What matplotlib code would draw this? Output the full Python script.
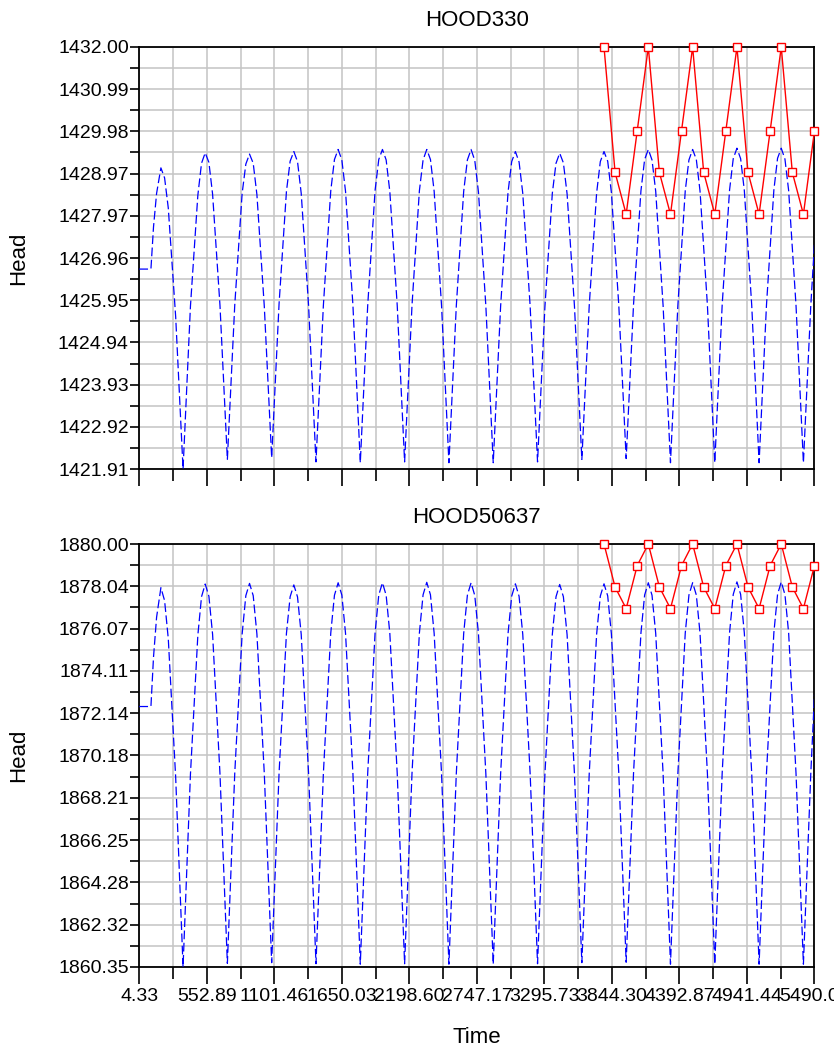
import numpy as np
import matplotlib
matplotlib.use('Agg')
import matplotlib.pyplot as plt
from matplotlib.ticker import AutoMinorLocator

plt.rcParams['font.family'] = ['Liberation Sans', 'DejaVu Sans']

# simulated head (blue dashed), times in days
sim_time = [4.33, 99, 120, 145, 180, 210, 240, 300,
            360, 420, 480, 510, 540, 570, 600, 660,
            720, 780, 840, 870, 900, 930, 960, 1020,
            1080, 1140, 1200, 1230, 1260, 1290, 1320, 1380,
            1440, 1500, 1560, 1590, 1620, 1650, 1680, 1740,
            1800, 1860, 1920, 1950, 1980, 2010, 2040, 2100,
            2160, 2220, 2280, 2310, 2340, 2370, 2400, 2460,
            2520, 2580, 2640, 2670, 2700, 2730, 2760, 2820,
            2880, 2940, 3000, 3030, 3060, 3090, 3120, 3180,
            3240, 3300, 3360, 3390, 3420, 3450, 3480, 3540,
            3600, 3660, 3720, 3750, 3780, 3810, 3840, 3900,
            3960, 4020, 4080, 4110, 4140, 4170, 4200, 4260,
            4320, 4380, 4440, 4470, 4500, 4530, 4560, 4620,
            4680, 4740, 4800, 4830, 4860, 4890, 4920, 4980,
            5040, 5100, 5160, 5190, 5220, 5250, 5280, 5340,
            5400, 5460, 5490]

sim_hood330 = [1426.69, 1426.69, 1427.70, 1428.50, 1429.11, 1428.87, 1428.15, 1425.55,
               1421.91, 1425.80, 1428.45, 1429.22, 1429.47, 1429.24, 1428.48, 1425.82,
               1422.14, 1425.83, 1428.50, 1429.20, 1429.44, 1429.22, 1428.47, 1425.80,
               1422.18, 1425.86, 1428.55, 1429.27, 1429.50, 1429.26, 1428.50, 1425.81,
               1422.08, 1425.82, 1428.56, 1429.31, 1429.55, 1429.30, 1428.55, 1425.83,
               1422.06, 1425.81, 1428.57, 1429.31, 1429.55, 1429.30, 1428.54, 1425.82,
               1422.08, 1425.82, 1428.56, 1429.30, 1429.55, 1429.31, 1428.55, 1425.82,
               1422.06, 1425.81, 1428.55, 1429.30, 1429.55, 1429.29, 1428.53, 1425.81,
               1422.06, 1425.80, 1428.52, 1429.26, 1429.50, 1429.25, 1428.50, 1425.80,
               1422.08, 1425.79, 1428.50, 1429.22, 1429.46, 1429.23, 1428.49, 1425.80,
               1422.14, 1425.82, 1428.51, 1429.26, 1429.50, 1429.27, 1428.52, 1425.83,
               1422.16, 1425.85, 1428.56, 1429.31, 1429.55, 1429.30, 1428.55, 1425.82,
               1422.06, 1425.82, 1428.56, 1429.30, 1429.55, 1429.31, 1428.56, 1425.83,
               1422.06, 1425.83, 1428.58, 1429.33, 1429.58, 1429.33, 1428.57, 1425.83,
               1422.06, 1425.83, 1428.58, 1429.34, 1429.58, 1429.32, 1428.57, 1425.82,
               1422.06, 1425.82, 1427.30]

sim_hood50637 = [1872.45, 1872.45, 1874.75, 1876.60, 1877.97, 1877.37, 1875.60, 1869.16,
                 1860.35, 1869.30, 1875.75, 1877.55, 1878.14, 1877.57, 1875.80, 1869.32,
                 1860.52, 1869.35, 1875.82, 1877.60, 1878.17, 1877.60, 1875.82, 1869.34,
                 1860.55, 1869.36, 1875.85, 1877.55, 1878.10, 1877.54, 1875.80, 1869.33,
                 1860.50, 1869.34, 1875.86, 1877.62, 1878.20, 1877.63, 1875.85, 1869.35,
                 1860.48, 1869.33, 1875.87, 1877.63, 1878.20, 1877.62, 1875.84, 1869.34,
                 1860.50, 1869.34, 1875.86, 1877.64, 1878.22, 1877.64, 1875.85, 1869.34,
                 1860.48, 1869.33, 1875.85, 1877.62, 1878.20, 1877.61, 1875.83, 1869.33,
                 1860.48, 1869.32, 1875.82, 1877.58, 1878.15, 1877.57, 1875.80, 1869.32,
                 1860.50, 1869.31, 1875.80, 1877.55, 1878.12, 1877.55, 1875.79, 1869.32,
                 1860.55, 1869.34, 1875.81, 1877.58, 1878.15, 1877.59, 1875.82, 1869.35,
                 1860.57, 1869.37, 1875.86, 1877.63, 1878.20, 1877.62, 1875.85, 1869.34,
                 1860.48, 1869.34, 1875.86, 1877.63, 1878.20, 1877.63, 1875.86, 1869.35,
                 1860.48, 1869.35, 1875.88, 1877.66, 1878.24, 1877.66, 1875.87, 1869.35,
                 1860.48, 1869.35, 1875.88, 1877.66, 1878.24, 1877.65, 1875.87, 1869.34,
                 1860.48, 1869.34, 1873.00]

# observed head (red squares)
obs_time = [3780, 3870, 3960, 4050, 4140, 4230, 4320, 4410, 4500, 4590,
            4680, 4770, 4860, 4950, 5040, 5130, 5220, 5310, 5400, 5490]
obs_hood330 = [1432, 1429, 1428, 1430, 1432, 1429, 1428, 1430, 1432, 1429,
               1428, 1430, 1432, 1429, 1428, 1430, 1432, 1429, 1428, 1430]
obs_hood50637 = [1880, 1878, 1877, 1879, 1880, 1878, 1877, 1879, 1880, 1878,
                 1877, 1879, 1880, 1878, 1877, 1879, 1880, 1878, 1877, 1879]

x_ticklabels = ['4.33', '552.89', '1101.46', '1650.03', '2198.60', '2747.17',
                '3295.73', '3844.30', '4392.87', '4941.44', '5490.00']
y_labels_330 = ['1421.91', '1422.92', '1423.93', '1424.94', '1425.95', '1426.96',
                '1427.97', '1428.97', '1429.98', '1430.99', '1432.00']
y_labels_50637 = ['1860.35', '1862.32', '1864.28', '1866.25', '1868.21', '1870.18',
                  '1872.14', '1874.11', '1876.07', '1878.04', '1880.00']

x_lo, x_hi = 4.33, 5490.0


def draw_panel(ax, title, sim, obs, ylo, yhi, ylabels, show_xlabels):
    ax.plot(sim_time, sim, color='#0000ff', lw=0.9, dashes=(7, 2.8), zorder=3)
    ax.plot(obs_time, obs, color='#ff0000', lw=1.0, marker='s', markersize=5.5,
            markerfacecolor='white', markeredgecolor='#ff0000', markeredgewidth=1.0,
            clip_on=False, zorder=4)

    ax.set_xlim(x_lo, x_hi)
    ax.set_ylim(ylo, yhi)
    ax.set_xticks(np.linspace(x_lo, x_hi, 11))
    ax.set_yticks(np.linspace(ylo, yhi, 11))
    ax.set_yticklabels(ylabels)
    if show_xlabels:
        ax.set_xticklabels(x_ticklabels)
    else:
        ax.set_xticklabels([])
    ax.xaxis.set_minor_locator(AutoMinorLocator(2))
    ax.yaxis.set_minor_locator(AutoMinorLocator(2))

    ax.grid(True, which='both', color='#c4c4c4', lw=1.1)
    ax.set_axisbelow(True)
    ax.tick_params(axis='x', which='major', length=12.5, width=1.2, labelsize=14, pad=3)
    ax.tick_params(axis='x', which='minor', length=8.5, width=1.2)
    ax.tick_params(axis='y', which='both', length=6.5, width=1.2, labelsize=14, pad=1)
    for sp in ax.spines.values():
        sp.set_linewidth(1.3)
        sp.set_color('black')

    ax.set_title(title, fontsize=16, pad=15)
    ax.set_ylabel('Head', fontsize=16)
    ax.yaxis.set_label_coords(-0.163, 0.5)


fig = plt.figure(figsize=(8.34, 10.49), dpi=100)
ax1 = fig.add_axes([0.1670, 0.5529, 0.8096, 0.4023])
ax2 = fig.add_axes([0.1670, 0.0782, 0.8096, 0.4032])

draw_panel(ax1, 'HOOD330', sim_hood330, obs_hood330, 1421.91, 1432.00, y_labels_330, False)
draw_panel(ax2, 'HOOD50637', sim_hood50637, obs_hood50637, 1860.35, 1880.00, y_labels_50637, True)

ax2.set_xlabel('Time', fontsize=16)
ax2.xaxis.set_label_coords(0.5, -0.142)

fig.savefig('out.png', dpi=100)
